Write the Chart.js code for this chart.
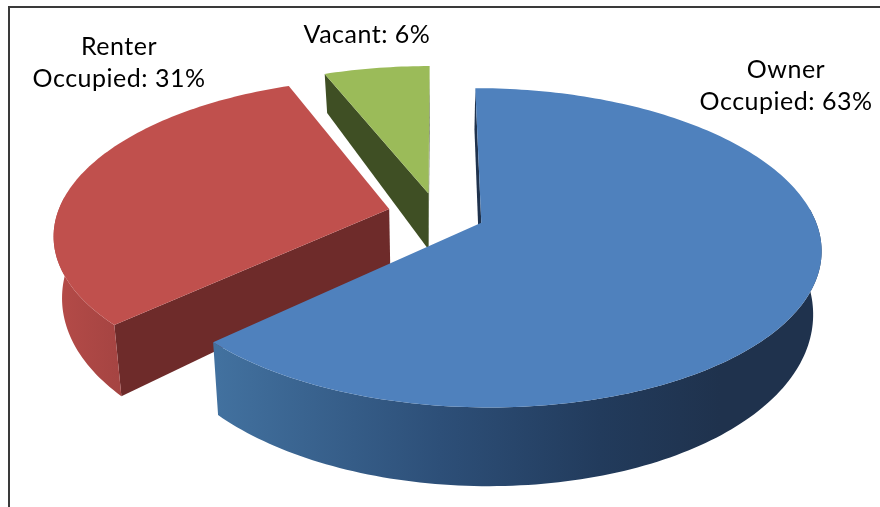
<!DOCTYPE html>
<html>
<head>
<meta charset="utf-8">
<title>Housing occupancy</title>
<script src="https://cdn.jsdelivr.net/npm/chart.js@4"></script>
<style>
  html, body { margin: 0; background: #fff; }
  #wrap { position: relative; width: 880px; height: 507px; overflow: hidden; }
  #frame { position: absolute; left: 8px; top: 6px; width: 880px; height: 520px; border: 2px solid #3a3a3a; box-sizing: border-box; }
  canvas { position: absolute; left: 0; top: 0; }
</style>
</head>
<body>
<div id="wrap">
  <div id="frame"></div>
  <canvas id="myChart" width="880" height="507"></canvas>
</div>
<script>
const categories = ['Owner Occupied', 'Renter Occupied', 'Vacant'];
const shares = [63, 31, 6];
const labelLines = [['Owner', 'Occupied: 63%'], ['Renter', 'Occupied: 31%'], ['Vacant: 6%']];

const topColors = ['#4f81bd', '#c0504d', '#9bbb59'];
const cutColors = ['#1f324d', '#6e2b2a', '#3f4f24'];
const rimStops = [
  [[217, '#42719f'], [440, '#2d4f78'], [600, '#223b5c'], [720, '#1f324d']],
  [[55, '#b54b48'], [120, '#a54442']],
  [[320, '#3f4f24'], [430, '#3f4f24']]
];
const sliceOffsets = [34, 35, 33];
const labelSpots = [[786, 70], [119, 47], [367, 35]];

// perspective used for the tilted pie
const view = { x0: 437, y0: 214, a: 332, b: 153, p: 0.155, depth: 59, depthGrow: 0.316, shrink: 0.022 };

function project(u, v, lower) {
  const w = 1 - view.p * v;
  const x = view.x0 + view.a * u / w;
  const y = view.y0 + view.b * v / w;
  if (!lower) return [x, y];
  return [view.x0 + (x - view.x0) * (1 - view.shrink), y + view.depth * (1 + view.depthGrow * v)];
}

function rimPoints(arc, lower) {
  const r = arc.outerRadius;
  const mid = (arc.startAngle + arc.endAngle) / 2;
  const ou = Math.cos(mid) * arc.options.offset / r;
  const ov = Math.sin(mid) * arc.options.offset / r;
  const pts = [];
  const front = [];
  const steps = Math.ceil((arc.endAngle - arc.startAngle) / 0.02);
  for (let i = 0; i <= steps; i++) {
    const t = arc.startAngle + (arc.endAngle - arc.startAngle) * i / steps;
    const p = project(ou + Math.cos(t), ov + Math.sin(t), lower);
    pts.push(p);
    if (Math.sin(t) > -0.1) front.push(p);
  }
  return { pts, front, apex: project(ou, ov, lower) };
}

function fillPoly(ctx, pts, fill) {
  ctx.beginPath();
  pts.forEach((p, i) => (i ? ctx.lineTo(p[0], p[1]) : ctx.moveTo(p[0], p[1])));
  ctx.closePath();
  ctx.fillStyle = fill;
  ctx.fill();
}

function cross(ax, ay, bx, by) {
  return ax * by - ay * bx;
}

// a cut wall shows only if it hangs away from the slice's own top face
function cutShows(apex, edge, nextToEdge, below) {
  const ex = edge[0] - apex[0];
  const ey = edge[1] - apex[1];
  const side = cross(ex, ey, nextToEdge[0] - apex[0], nextToEdge[1] - apex[1]);
  const down = cross(ex, ey, below[0] - edge[0], below[1] - edge[1]);
  return side * down < 0;
}

const tiltedPie = {
  id: 'tiltedPie',
  beforeDatasetDraw(chart) {
    const ctx = chart.ctx;
    const arcs = chart.getDatasetMeta(0).data;
    // far slices first
    [2, 1, 0].forEach(i => {
      const arc = arcs[i];
      const upper = rimPoints(arc, false);
      const lower = rimPoints(arc, true);
      const n = upper.pts.length - 1;
      if (cutShows(upper.apex, upper.pts[0], upper.pts[1], lower.pts[0])) {
        fillPoly(ctx, [upper.apex, upper.pts[0], lower.pts[0], lower.apex], cutColors[i]);
      }
      if (cutShows(upper.apex, upper.pts[n], upper.pts[n - 1], lower.pts[n])) {
        fillPoly(ctx, [upper.apex, upper.pts[n], lower.pts[n], lower.apex], cutColors[i]);
      }
      if (upper.front.length > 1) {
        const stops = rimStops[i];
        const first = stops[0][0];
        const span = stops[stops.length - 1][0] - first;
        const grad = ctx.createLinearGradient(first, 0, first + span, 0);
        stops.forEach(s => grad.addColorStop((s[0] - first) / span, s[1]));
        fillPoly(ctx, upper.front.concat(lower.front.slice().reverse()), grad);
      }
      fillPoly(ctx, [upper.apex].concat(upper.pts), arc.options.backgroundColor);
    });
    ctx.fillStyle = '#000';
    ctx.font = '25px Lato';
    ctx.letterSpacing = '0.5px';
    ctx.textAlign = 'center';
    ctx.textBaseline = 'middle';
    labelLines.forEach((lines, i) => {
      lines.forEach((line, j) => ctx.fillText(line, labelSpots[i][0], labelSpots[i][1] + j * 32));
    });
    return false;
  }
};

new Chart(document.getElementById('myChart'), {
  type: 'pie',
  data: {
    labels: categories,
    datasets: [{
      data: shares,
      backgroundColor: topColors,
      borderWidth: 0,
      offset: sliceOffsets
    }]
  },
  options: {
    responsive: false,
    animation: false,
    plugins: { legend: { display: false }, tooltip: { enabled: false } }
  },
  plugins: [tiltedPie]
});
</script>
</body>
</html>
